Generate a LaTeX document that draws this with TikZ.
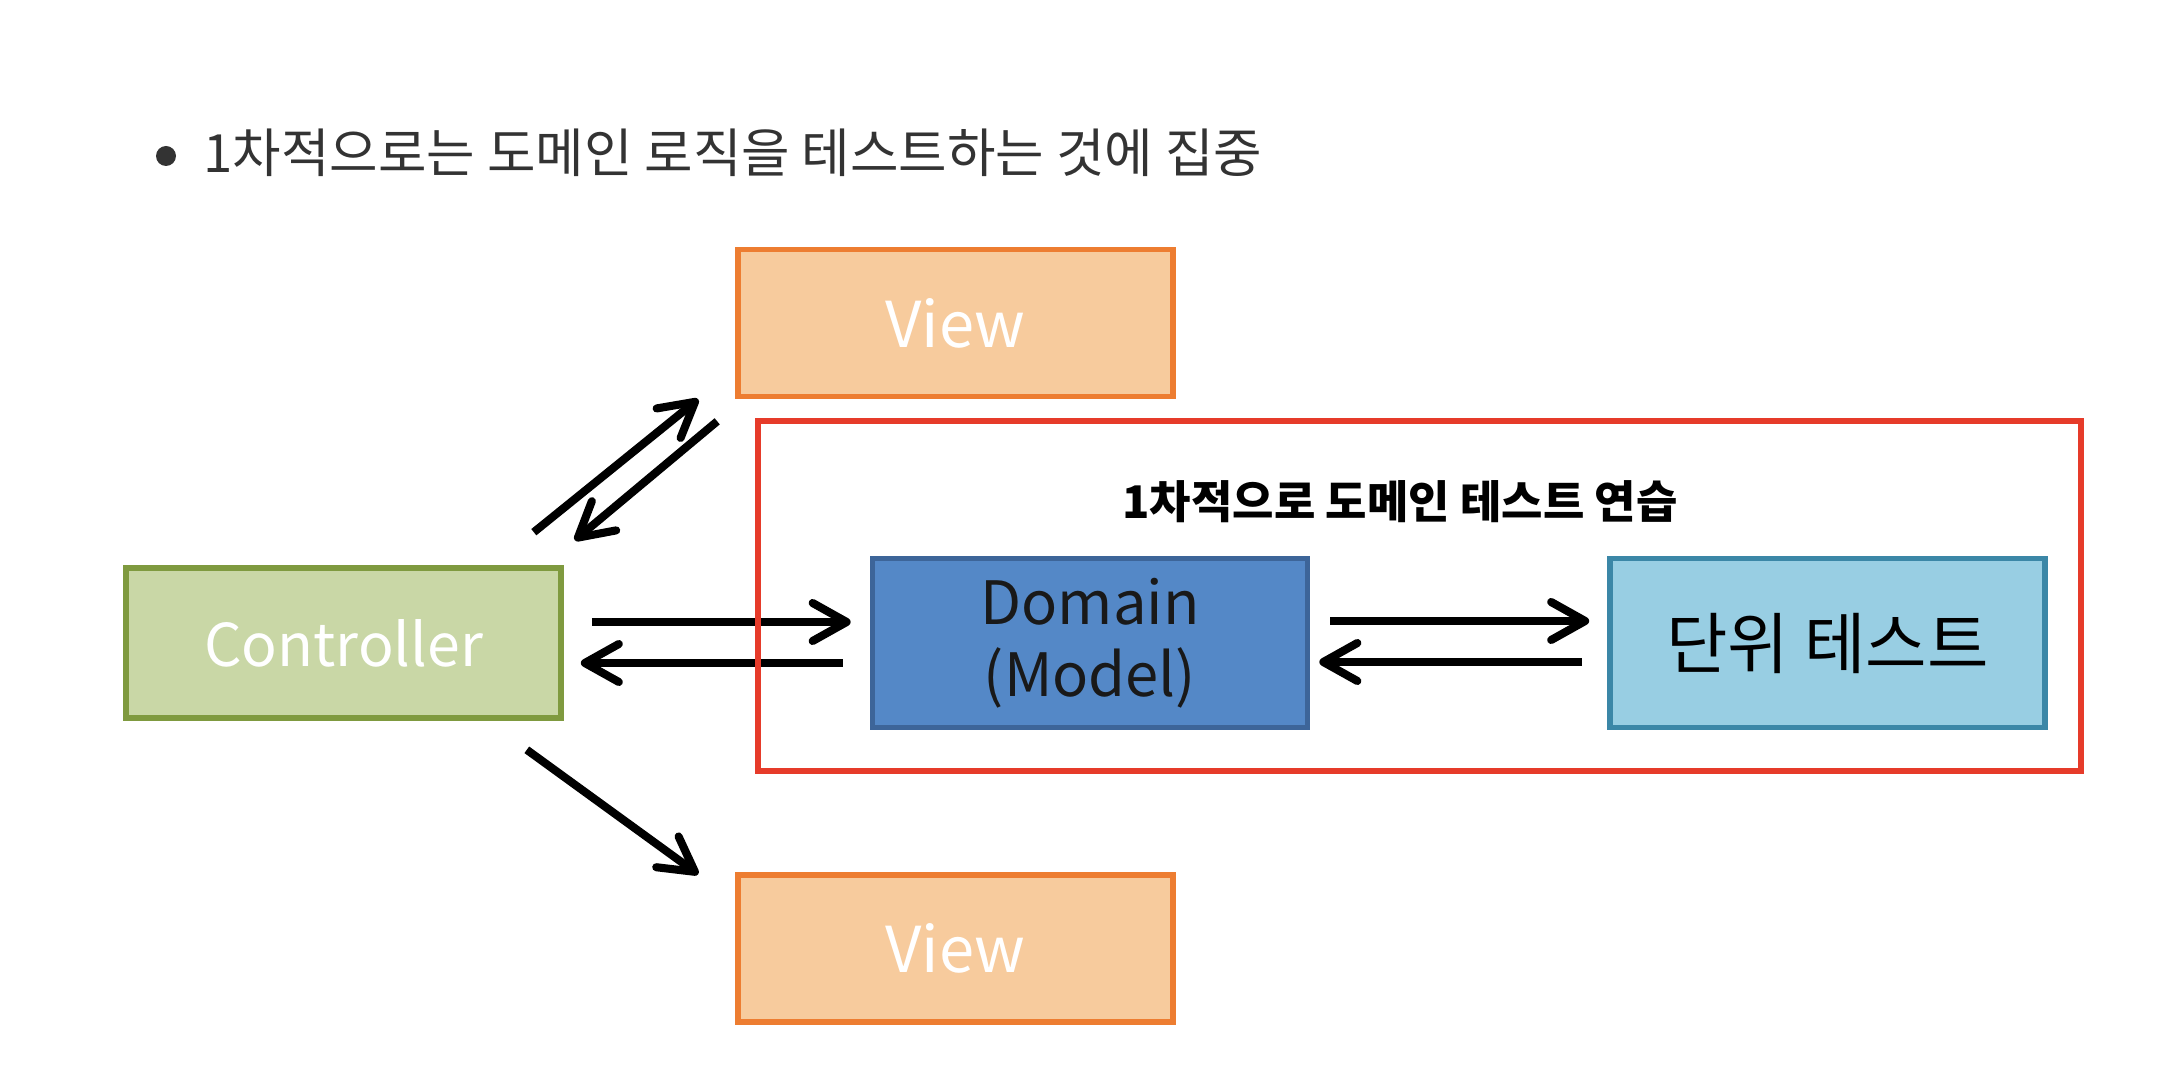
\documentclass[tikz,border=0pt]{standalone}
\usepackage{fontspec}
\setmainfont{Noto Sans CJK KR}
\usetikzlibrary{arrows.meta,positioning}

\definecolor{viewfill}{HTML}{F7CB9D}
\definecolor{viewline}{HTML}{ED7D31}
\definecolor{ctrlfill}{HTML}{C9D7A6}
\definecolor{ctrlline}{HTML}{7F9A3F}
\definecolor{domfill}{HTML}{5488C7}
\definecolor{domline}{HTML}{3D6599}
\definecolor{unitfill}{HTML}{98CEE3}
\definecolor{unitline}{HTML}{3B87A7}
\definecolor{framered}{HTML}{E63B2A}
\definecolor{textgray}{HTML}{333333}

\tikzset{
  box/.style={draw, line width=1.6pt, minimum width=4.35cm, inner sep=0pt, align=center},
  viewbox/.style={box, draw=viewline, fill=viewfill, minimum height=1.47cm, text=white, font=\fontsize{18}{20}\selectfont},
  ctrlbox/.style={box, draw=ctrlline, fill=ctrlfill, minimum height=1.5cm, text=white, font=\fontsize{16.8}{20}\selectfont},
  dombox/.style={box, draw=domline, fill=domfill, minimum height=1.69cm, text=black!90, font=\fontsize{17}{20.5}\selectfont},
  unitbox/.style={box, draw=unitline, fill=unitfill, minimum height=1.69cm, text=black, font=\fontsize{19}{22}\selectfont},
  arr/.style={line width=2.3pt, -{Straight Barb[length=3.4mm,width=3.8mm,round]}},
}

\begin{document}
\begin{tikzpicture}
	\useasboundingbox (0,0) rectangle (21.64,10.76);
	
	\fill[textgray] (1.66,9.20) circle (0.1);
	\node[anchor=west, inner sep=0pt, text=textgray, font=\fontsize{15}{17}\selectfont] (title) at (2.03,9.23) {1차적으로는 도메인 로직을 테스트하는 것에 집중};
	
	\node[viewbox] (viewtop) at (9.555,7.53) {View};
	\node[ctrlbox] (ctrl) at (3.435,4.33) {Controller};
	\node[dombox] (dom) at (10.90,4.33) {Domain\\(Model)};
	\node[unitbox] (unit) at (18.275,4.33) {단위 테스트};
	\node[viewbox] (viewbot) at (9.555,1.275) {View};
	
	\draw[arr, shorten <=0.28cm, shorten >=0.19cm] ([yshift=0.21cm]ctrl.east) -- ([yshift=0.21cm]dom.west);
	\draw[arr, shorten <=0.27cm, shorten >=0.17cm] ([yshift=-0.2cm]dom.west) -- ([yshift=-0.2cm]ctrl.east);
	\draw[arr, shorten <=0.2cm, shorten >=0.18cm] ([yshift=0.22cm]dom.east) -- ([yshift=0.22cm]unit.west);
	\draw[arr, shorten <=0.25cm, shorten >=0.09cm] ([yshift=-0.19cm]unit.west) -- ([yshift=-0.19cm]dom.east);
	
	\draw[arr] ([xshift=-0.3cm,yshift=0.33cm]ctrl.north east) -- ([xshift=-0.37cm]viewtop.south west);
	\draw[arr] ([xshift=-0.18cm,yshift=-0.22cm]viewtop.south west) -- ([xshift=0.11cm,yshift=0.25cm]ctrl.north east);
	\draw[arr] ([xshift=-0.37cm,yshift=-0.29cm]ctrl.south east) -- ([xshift=-0.37cm,yshift=-0.02cm]viewbot.north west);
	
	\draw[framered, line width=1.6pt] (7.58,6.55) rectangle (20.81,3.05);
	\node[font=\bfseries\fontsize{12.8}{15}\selectfont] (lbl) at (14.0,5.74) {1차적으로 도메인 테스트 연습};
	
\end{tikzpicture}
\end{document}
